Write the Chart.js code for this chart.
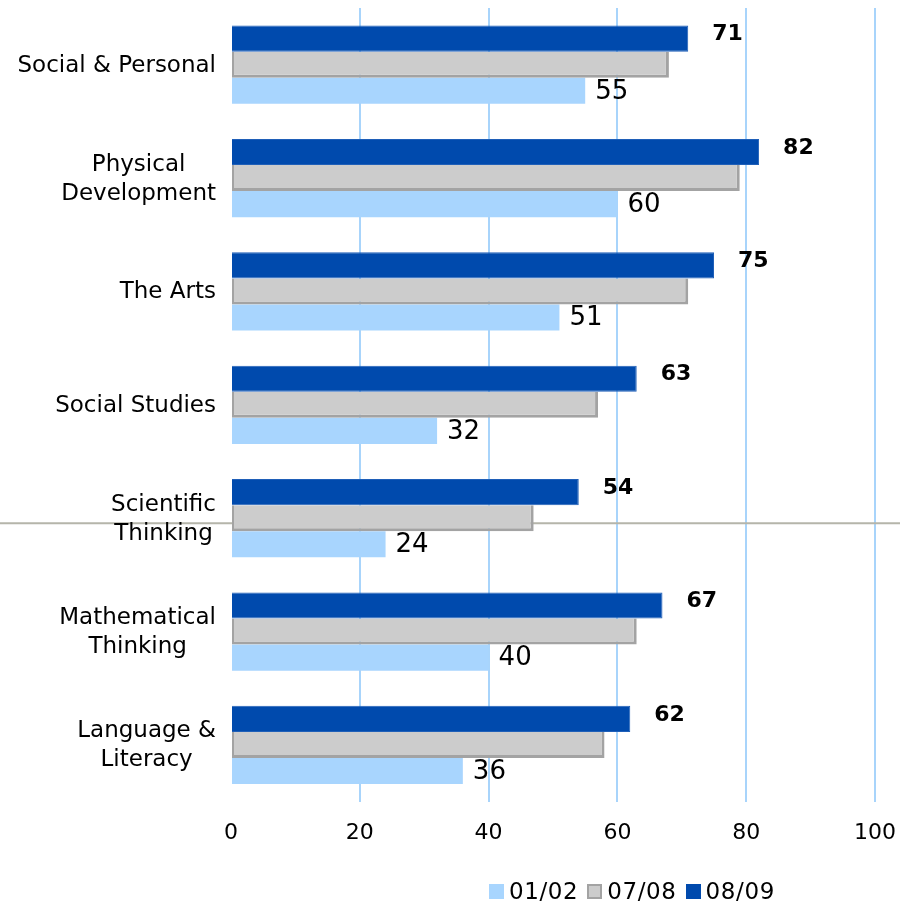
<!DOCTYPE html>
<html>
<head>
<meta charset="utf-8">
<script src="https://cdn.jsdelivr.net/npm/chart.js@4/dist/chart.umd.min.js"></script>
<style>
  html, body { margin: 0; padding: 0; background: #fff; }
  #wrap { position: relative; width: 900px; height: 904px; }
  #legend {
    position: absolute; top: 878px; left: 489px;
    font-family: "DejaVu Sans", Verdana, sans-serif; font-size: 23px; color: #000;
    letter-spacing: 0.6px; line-height: 26px;
    display: flex; align-items: center;
  }
  #legend span.item { display: flex; align-items: center; margin-right: 9px; }
  #legend span.box { display: inline-block; width: 15px; height: 15px; margin-right: 5px; box-sizing: border-box; }
</style>
</head>
<body>
<div id="wrap">
  <canvas id="chart" width="900" height="904"></canvas>
  <div id="legend"></div>
</div>
<script>
  var categories = [
    'Social & Personal',
    ['Physical', 'Development'],
    'The Arts',
    'Social Studies',
    ['Scientific', 'Thinking'],
    ['Mathematical', 'Thinking'],
    ['Language &', 'Literacy']
  ];
  var seriesNames = ['01/02', '07/08', '08/09'];
  var values0102 = [55, 60, 51, 32, 24, 40, 36];
  var values0708 = [68, 79, 71, 57, 47, 63, 58];
  var values0809 = [71, 82, 75, 63, 54, 67, 62];
  var xMin = 0;
  var xMax = 100;
  var xStep = 20;

  var lightBlue = '#a8d5fe';
  var grey = '#cccccc';
  var greyBorder = '#a3a3a3';
  var darkBlue = '#004aad';
  var gridColor = '#a8d4fb';
  var fontFamily = '"DejaVu Sans", Verdana, sans-serif';

  // value labels next to the bars
  var valueLabels = {
    id: 'valueLabels',
    afterDatasetsDraw: function (chart) {
      var ctx = chart.ctx;
      ctx.save();
      ctx.fillStyle = '#000';
      ctx.textAlign = 'left';
      ctx.textBaseline = 'middle';
      chart.data.datasets.forEach(function (ds, di) {
        if (!ds.showValue) return;
        var meta = chart.getDatasetMeta(di);
        meta.data.forEach(function (bar, i) {
          if (ds.showValue === 'bold') {
            ctx.font = 'bold 22px ' + fontFamily;
            ctx.fillText(String(ds.data[i]), bar.x + 24, bar.y - 4);
          } else {
            ctx.font = '26px ' + fontFamily;
            ctx.fillText(String(ds.data[i]), bar.x + 10, bar.y + 1);
          }
        });
      });
      ctx.restore();
    }
  };

  // category labels: lines centred within a right aligned block
  var categoryLabels = {
    id: 'categoryLabels',
    afterDraw: function (chart) {
      var ctx = chart.ctx;
      var yScale = chart.scales.y;
      var right = chart.chartArea.left - 15;
      var lineHeight = 29;
      ctx.save();
      ctx.font = '23px ' + fontFamily;
      ctx.fillStyle = '#000';
      ctx.textAlign = 'center';
      ctx.textBaseline = 'middle';
      categories.forEach(function (c, i) {
        var lines = Array.isArray(c) ? c : [c];
        var w = 0;
        lines.forEach(function (l) { w = Math.max(w, ctx.measureText(l).width); });
        var cx = right - w / 2;
        var cy = yScale.getPixelForValue(i) + 1;
        var top = cy - (lines.length - 1) * lineHeight / 2;
        lines.forEach(function (l, k) {
          ctx.fillText(l, cx, top + k * lineHeight);
        });
      });
      ctx.restore();
    }
  };

  // thin rule running across the page behind the bars
  var crossRule = {
    id: 'crossRule',
    beforeDatasetsDraw: function (chart) {
      var ctx = chart.ctx;
      var y = chart.scales.y.getPixelForValue(4) + 5;
      ctx.save();
      ctx.strokeStyle = '#b5b5aa';
      ctx.lineWidth = 2;
      ctx.beginPath();
      ctx.moveTo(0, y);
      ctx.lineTo(chart.width, y);
      ctx.stroke();
      ctx.restore();
    }
  };

  var datasets = [
    { label: seriesNames[2], data: values0809, backgroundColor: darkBlue, borderColor: '#1f5fb8', borderWidth: 1, showValue: 'bold' },
    { label: seriesNames[1], data: values0708, backgroundColor: grey, borderColor: greyBorder,
      borderWidth: { top: 0, right: 3, bottom: 3, left: 2 }, borderSkipped: false, showValue: false },
    { label: seriesNames[0], data: values0102, backgroundColor: lightBlue, borderColor: lightBlue, borderWidth: 0, showValue: 'plain' }
  ];

  var chart = new Chart(document.getElementById('chart').getContext('2d'), {
    type: 'bar',
    data: {
      labels: categories,
      datasets: datasets
    },
    options: {
      indexAxis: 'y',
      responsive: false,
      animation: false,
      events: [],
      categoryPercentage: 0.69,
      barPercentage: 1,
      layout: {
        padding: { left: 0, right: 25, top: 8, bottom: 40 }
      },
      plugins: {
        legend: { display: false },
        tooltip: { enabled: false }
      },
      scales: {
        x: {
          min: xMin,
          max: xMax,
          border: { display: false },
          grid: {
            color: function (c) { return c.tick && c.tick.value === 0 ? 'rgba(0,0,0,0)' : gridColor; },
            lineWidth: 2,
            drawTicks: false
          },
          ticks: {
            stepSize: xStep,
            padding: 18,
            color: '#000',
            font: { family: fontFamily, size: 22 }
          },
          afterFit: function (scale) { scale.paddingLeft = 0; scale.paddingRight = 0; }
        },
        y: {
          border: { display: false },
          grid: { display: false },
          ticks: { display: false },
          afterFit: function (scale) { scale.width = 231; }
        }
      }
    },
    plugins: [crossRule, valueLabels, categoryLabels]
  });

  // legend in series order 01/02, 07/08, 08/09
  var legend = document.getElementById('legend');
  datasets.slice().reverse().forEach(function (ds) {
    var item = document.createElement('span');
    item.className = 'item';
    var box = document.createElement('span');
    box.className = 'box';
    box.style.background = ds.backgroundColor;
    if (typeof ds.borderWidth === 'object') box.style.border = '2px solid ' + ds.borderColor;
    item.appendChild(box);
    item.appendChild(document.createTextNode(ds.label));
    legend.appendChild(item);
  });
</script>
</body>
</html>
